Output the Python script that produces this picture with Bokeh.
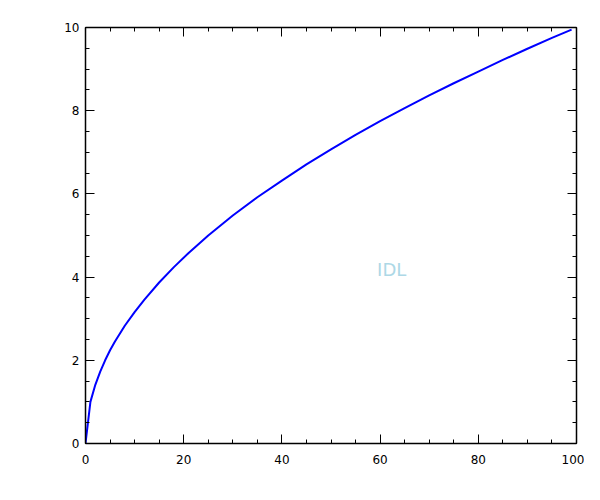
from bokeh.plotting import figure
from bokeh.models import Range1d, FixedTicker, LinearAxis, Label
from bokeh.embed import file_html
from bokeh.resources import INLINE

x_vals = [0, 1, 2, 3, 4, 5, 6, 8, 10, 12, 15, 18, 21, 25, 30, 35, 40, 45, 50,
          55, 60, 65, 70, 75, 80, 85, 90, 95, 99]
y_vals = [0, 1.0, 1.41, 1.73, 2.0, 2.24, 2.45, 2.83, 3.16, 3.46, 3.87, 4.24,
          4.58, 5.0, 5.48, 5.92, 6.32, 6.71, 7.07, 7.42, 7.75, 8.06, 8.37, 8.66,
          8.94, 9.22, 9.49, 9.75, 9.95]
x_ticks = [0, 20, 40, 60, 80, 100]
x_minor = [v * 5 for v in range(21)]
y_ticks = [0, 2, 4, 6, 8, 10]
y_minor = [v * 0.5 for v in range(21)]
label_text = "IDL"
label_pos = (60, 4)

p = figure(width=584, height=484, output_backend="svg", toolbar_location=None,
           x_range=Range1d(0, 100), y_range=Range1d(0, 10),
           x_axis_location=None, y_axis_location=None)
p.min_border_left = 85
p.min_border_right = 8
p.min_border_top = 27
p.min_border_bottom = 41
p.xgrid.visible = False
p.ygrid.visible = False
p.outline_line_color = None
p.background_fill_color = "white"
p.border_fill_color = "white"

def style(ax, ticks, minor, show_labels):
    ax.ticker = FixedTicker(ticks=ticks, minor_ticks=minor)
    ax.axis_line_color = "black"
    ax.axis_line_width = 1.5
    ax.major_tick_in = 9
    ax.major_tick_out = 0
    ax.minor_tick_in = 4
    ax.minor_tick_out = 0
    ax.major_tick_line_color = "black"
    ax.minor_tick_line_color = "black"
    ax.major_tick_line_width = 1
    ax.minor_tick_line_width = 1
    ax.major_label_text_font = "DejaVu Sans"
    if show_labels:
        ax.major_label_text_font_size = "12px"
        ax.major_label_text_color = "black"
    else:
        ax.major_label_text_font_size = "0px"
        ax.major_label_text_color = None

bx = LinearAxis(); style(bx, x_ticks, x_minor, True); bx.major_label_standoff = 11
tx = LinearAxis(); style(tx, x_ticks, x_minor, False); tx.major_label_standoff = 0
ly = LinearAxis(); style(ly, y_ticks, y_minor, True); ly.major_label_standoff = 6
ry = LinearAxis(); style(ry, y_ticks, y_minor, False); ry.major_label_standoff = 0
p.add_layout(bx, "below")
p.add_layout(tx, "above")
p.add_layout(ly, "left")
p.add_layout(ry, "right")

p.line(x_vals, y_vals, line_color="blue", line_width=2)

p.add_layout(Label(x=label_pos[0], y=label_pos[1], text=label_text,
                   x_offset=-3, y_offset=8,
                   text_color="lightblue", text_font="DejaVu Sans",
                   text_font_size="18px", text_baseline="alphabetic",
                   text_align="left"))

open("out.html", "w").write(file_html(p, INLINE))
